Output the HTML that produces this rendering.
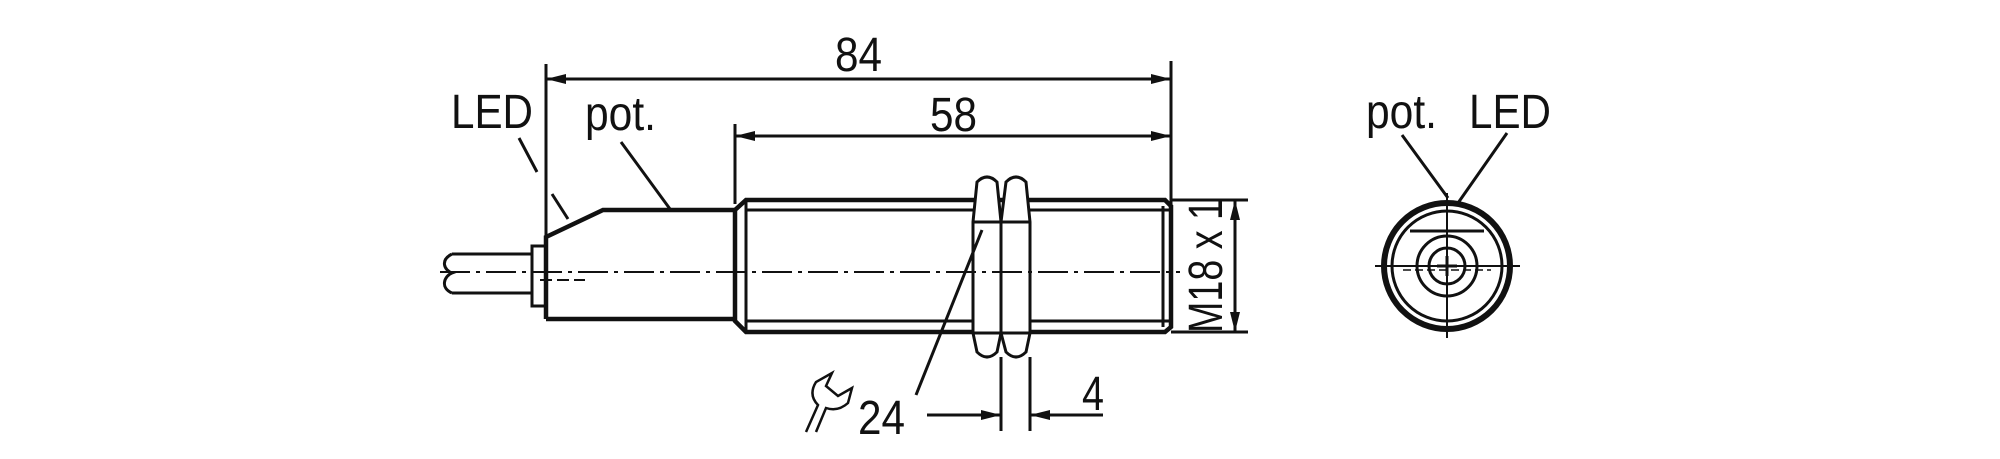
<!DOCTYPE html>
<html><head><meta charset="utf-8"><style>
html,body{margin:0;padding:0;background:#fff;}
svg{display:block;}
text{font-family:"Liberation Sans",sans-serif;font-size:48px;fill:#111;}
</style></head><body>
<svg width="2000" height="459" viewBox="0 0 2000 459" xmlns="http://www.w3.org/2000/svg">
<defs>
<marker id="a" viewBox="0 0 20 10" refX="20" refY="5" markerWidth="22" markerHeight="10" markerUnits="userSpaceOnUse" orient="auto-start-reverse"><path d="M0,0L20,5L0,10z" fill="#111"/></marker>
</defs>
<g stroke="#111" fill="none" stroke-width="3">
<line x1="546" y1="64" x2="546" y2="237"/>
<line x1="1171" y1="61" x2="1171" y2="204"/>
<line x1="735" y1="124" x2="735" y2="204"/>
<line x1="546" y1="79" x2="1171" y2="79" marker-start="url(#a)" marker-end="url(#a)"/>
<line x1="735" y1="136" x2="1171" y2="136" marker-start="url(#a)" marker-end="url(#a)"/>
<line x1="519" y1="138" x2="537" y2="172"/>
<line x1="552" y1="194" x2="568" y2="219"/>
<line x1="621" y1="142" x2="670" y2="209"/>
<path d="M532,254 H452 M532,293 H452"/>
<path d="M452,254 C440,260 444,270 452,273 C444,276 440,288 452,293"/>
<rect x="532" y="246" width="14" height="60"/>
<path d="M546,319 V237 L603,210 H735 M546,319 H735" stroke-width="4.5"/>
<path d="M735,210 L746,200 H1165 L1171,206 V327 L1165,332 H746 L735,321 Z" stroke-width="4.5"/>
<line x1="746" y1="200" x2="746" y2="332"/>
<line x1="746" y1="210" x2="1171" y2="210"/>
<line x1="746" y1="321" x2="1171" y2="321"/>
<line x1="1163" y1="206" x2="1163" y2="327"/>
<g fill="#fff">
<path d="M977,182 Q987,172 997,182 L1001,222 V333 L997,352 Q987,362 977,352 L973,333 V222 Z"/>
<path d="M1006,182 Q1016,172 1026,182 L1030,222 V333 L1026,352 Q1016,362 1006,352 L1001,333 V222 Z"/>
</g>
<path d="M973,222 H1030 M973,333 H1030"/>
<line x1="440" y1="272" x2="1180" y2="272" stroke-dasharray="30,6,4,6" stroke-width="2"/>
<line x1="540" y1="280" x2="585" y2="280" stroke-dasharray="12,5" stroke-width="2"/>
<line x1="1171" y1="200" x2="1248" y2="200"/>
<line x1="1171" y1="332" x2="1248" y2="332"/>
<line x1="1235" y1="200" x2="1235" y2="332" marker-start="url(#a)" marker-end="url(#a)"/>
<line x1="982" y1="230" x2="916" y2="395"/>
<line x1="1001" y1="357" x2="1001" y2="431"/>
<line x1="1030" y1="357" x2="1030" y2="431"/>
<line x1="927" y1="415" x2="1001" y2="415" marker-end="url(#a)"/>
<line x1="1103" y1="415" x2="1030" y2="415" marker-end="url(#a)"/>
<path d="M806,432 L818,405 Q808,395 816,382 L832,373 L826,386 L838,396 L852,388 L848,403 Q838,412 826,408 L816,432" stroke-width="2.5"/>
<circle cx="1447" cy="266" r="63" stroke-width="6"/>
<circle cx="1447" cy="266" r="55"/>
<line x1="1410" y1="231" x2="1484" y2="231"/>
<circle cx="1447" cy="266" r="30"/>
<circle cx="1447" cy="266" r="18"/>
<path d="M1375,266 H1520 M1447,193 V338" stroke-width="2"/>
<path d="M1437,266 H1457 M1447,256 V276" stroke-width="3"/>
<line x1="1403" y1="270" x2="1491" y2="270" stroke-dasharray="8,4" stroke-width="1.5"/>
<line x1="1402" y1="135" x2="1448" y2="198"/>
<line x1="1507" y1="133" x2="1458" y2="203"/>
</g>
<text x="835" y="71" textLength="47" lengthAdjust="spacingAndGlyphs">84</text>
<text x="930" y="131" textLength="47" lengthAdjust="spacingAndGlyphs">58</text>
<text x="451" y="128" textLength="82" lengthAdjust="spacingAndGlyphs">LED</text>
<text x="585" y="130" textLength="71" lengthAdjust="spacingAndGlyphs">pot.</text>
<text x="858" y="434" textLength="47" lengthAdjust="spacingAndGlyphs">24</text>
<text x="1082" y="410" textLength="22" lengthAdjust="spacingAndGlyphs">4</text>
<text x="0" y="0" transform="translate(1222,266) rotate(-90)" text-anchor="middle" textLength="134" lengthAdjust="spacingAndGlyphs">M18 x 1</text>
<text x="1366" y="128" textLength="71" lengthAdjust="spacingAndGlyphs">pot.</text>
<text x="1469" y="128" textLength="82" lengthAdjust="spacingAndGlyphs">LED</text>
</svg>
</body></html>
